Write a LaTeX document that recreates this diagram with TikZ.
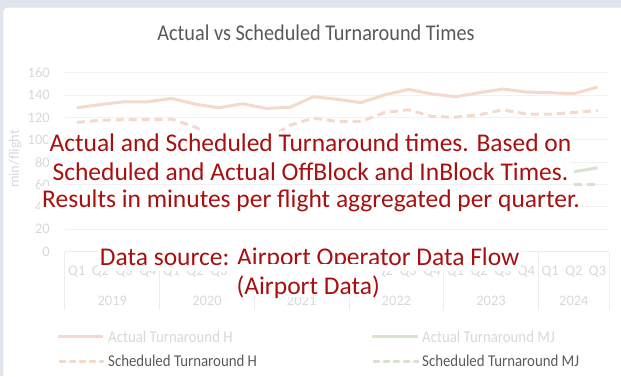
\documentclass[tikz,border=0pt]{standalone}
\usepackage{fontspec}
\setmainfont{Carlito}
\newfontfamily\narrowfont[FakeStretch=0.9]{Carlito}
\definecolor{panelbg}{HTML}{DFE4ED}
\definecolor{peach}{HTML}{F4DACC}
\definecolor{sage}{HTML}{D6E4CE}
\definecolor{gridgray}{HTML}{F2F2F2}
\definecolor{axisgray}{HTML}{EDEDED}
\definecolor{ticklabel}{HTML}{D9D9D9}
\definecolor{titlegray}{HTML}{595959}
\definecolor{legdark}{HTML}{5A5A5A}
\definecolor{notered}{RGB}{168,16,16}

\begin{document}
\begin{tikzpicture}[x=1pt,y=-1pt,
  note/.style={fill=white,text=notered,font=\fontsize{25.5}{28}\selectfont,inner xsep=2pt,inner ysep=3.5pt,anchor=base},
  ticklbl/.style={text=ticklabel,font=\fontsize{14.5}{16}\selectfont,inner sep=0pt},
  legtext/.style={font=\narrowfont\fontsize{16.5}{18}\selectfont,anchor=base west,inner sep=0pt},
  series/.style={peach,line width=3pt,line join=round},
  sched/.style={series,dash pattern=on 8pt off 5pt}]
  \clip (0,0) rectangle (621,376);
  \fill[panelbg] (0,0) rectangle (621,376);
  \fill[white,rounded corners=5pt] (3.3,7.5) rectangle (660,420);

  % chart area, one unit per quarter and per minute
  \begin{scope}[shift={(76.8,251.7)},x=23.67pt,y=1.119pt]
    \foreach \v in {20,40,...,160}
      \draw[gridgray,line width=1pt] (-0.5,\v) -- (22.5,\v);
    \foreach \v in {0,20,...,160}
      \node[ticklbl,anchor=east] (y\v) at ([xshift=-15pt]-0.5,\v) {\v};
    \node[ticklbl,rotate=90] (ylab) at ([xshift=-61.8pt]0,83) {min/flight};

    \draw[axisgray,line width=1pt] (-0.5,0) -- (22.5,0);
    \foreach \b in {-0.5,3.5,7.5,11.5,15.5,19.5,22.5}
      \draw[axisgray,line width=1pt] (\b,0) -- (\b,-52);
    \foreach \k in {0,...,22}{
      \pgfmathtruncatemacro\q{mod(\k,4)+1}
      \node[ticklbl] (q\k) at (\k,-17.9) {Q\q};
    }
    \foreach \p/\yr in {1.5/2019,5.5/2020,9.5/2021,13.5/2022,17.5/2023,21/2024}
      \node[ticklbl] (yr\yr) at (\p,-44) {\yr};

    \draw[series] plot coordinates {(0,128.6) (1,131.5) (2,134) (3,134) (4,137)
      (5,131.9) (6,128.6) (7,132.2) (8,128.1) (9,129) (10,138.5) (11,136.2)
      (12,133.2) (13,140.1) (14,145.1) (15,141) (16,138.5) (17,142.1) (18,145.4)
      (19,142.7) (20,142.1) (21,141.2) (22,147.1)};
    \draw[sched] plot coordinates {(0,115.6) (1,117.5) (2,118) (3,118) (4,118.6)
      (5,111.4) (6,100) (7,99) (8,100) (9,113) (10,119.4) (11,116.4) (12,116.4)
      (13,124.4) (14,126.8) (15,120.8) (16,120.3) (17,122.3) (18,126.8) (19,123)
      (20,123) (21,124.4) (22,126.2)};
    \draw[series,sage] plot coordinates {(21,71.5) (22,75)};
    \draw[sched,sage] plot coordinates {(21,60.5) (22,60.5)};
  \end{scope}

  \node[font=\narrowfont\fontsize{22.5}{24}\selectfont,text=titlegray,anchor=base] (title) at (316,40.5)
    {Actual vs Scheduled Turnaround Times};

  \node[note] (note1) at (310.5,151.7) {Actual and Scheduled Turnaround times. Based on};
  \node[note] (note2) at (310.5,180) {Scheduled and Actual OffBlock and InBlock Times.};
  \node[note] (note3) at (311,207.3) {Results in minutes per flight aggregated per quarter.};
  \node[note,text depth=0pt,inner ysep=5pt] (src1) at (309.7,265.5) {Data source: Airport Operator Data Flow};
  \node[note,text height=27pt,text depth=0pt,inner ysep=3pt] (src2) at (308.2,294) {(Airport Data)};

  % legend
  \node[legtext,text=ticklabel] (legAH) at (108,342.5) {Actual Turnaround H};
  \node[legtext,text=legdark] (legSH) at (108,366.7) {Scheduled Turnaround H};
  \node[legtext,text=ticklabel] (legAM) at (422,342.5) {Actual Turnaround MJ};
  \node[legtext,text=legdark] (legSM) at (422,366.7) {Scheduled Turnaround MJ};
  \draw[series] ([xshift=-50pt]legAH.west) -- ([xshift=-5pt]legAH.west);
  \draw[sched,dash pattern=on 5pt off 5pt,line cap=round] ([xshift=-48pt]legSH.west) -- ([xshift=-5pt]legSH.west);
  \draw[series,sage] ([xshift=-50pt]legAM.west) -- ([xshift=-4pt]legAM.west);
  \draw[sched,sage,dash pattern=on 5pt off 5pt,line cap=round] ([xshift=-48pt]legSM.west) -- ([xshift=-4pt]legSM.west);
\end{tikzpicture}
\end{document}
